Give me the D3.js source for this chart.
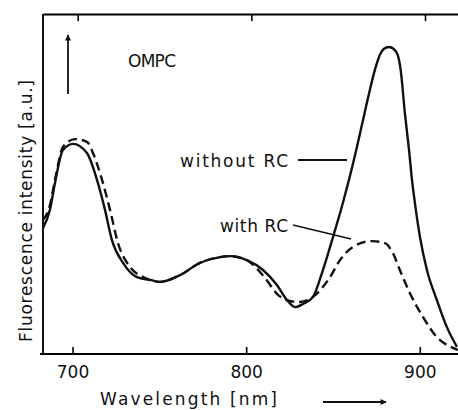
<!DOCTYPE html>
<html>
<head>
<meta charset="utf-8">
<script src="https://cdn.jsdelivr.net/npm/d3@7"></script>
<style>
  body { margin: 0; background: #fff; }
  text { font-family: "DejaVu Sans", sans-serif; fill: #111; }
  .frame { stroke: #111; stroke-width: 2; fill: none; }
  .without-rc { stroke: #111; stroke-width: 2.4; fill: none; }
  .with-rc { stroke: #111; stroke-width: 2.4; fill: none; stroke-dasharray: 9 5; }
  .leader { stroke: #111; stroke-width: 1.8; }
</style>
</head>
<body>
<div id="chart"></div>
<script>
// DATA
const wlWithout = [683, 687, 689.9, 694.5, 700.3, 708.3, 714.1, 718.7, 722.7, 729.1, 737.1, 744.6, 750.4,
  761.9, 773.4, 784.9, 790.6, 800.4, 809.7, 817.7, 823.5, 828.1, 832.7, 838.5, 844.2, 850, 855.7, 859.2,
  863.8, 869.5, 874.1, 876.9, 879.2, 882.2, 885, 887.3, 889, 891.4, 893.8, 895.5, 897.2, 900.1, 904.1,
  909.8, 915.6, 921.4]
const withoutRC = [37.1, 42.4, 50.3, 60, 61.8, 59.1, 51.2, 42.4, 33.5, 26.8, 22.6, 21.8, 21.2,
  23.2, 26.8, 28.5, 28.8, 27.6, 24.7, 20.3, 15.9, 13.8, 14.7, 16.8, 24.7, 34.4, 44.4, 51.2,
  60.9, 73.8, 83.5, 87.9, 89.7, 90.3, 89.7, 87.9, 83.5, 70.9, 60, 51.2, 44.4, 34.4, 24.7,
  15.9, 7.9, 2.1]

const wlWith = [683, 687, 689.9, 694.5, 701.4, 708.3, 711.8, 717, 721.6, 726.2, 733.1, 741.7, 750.4,
  761.9, 773.4, 784.9, 790.6, 800.4, 810.8, 818.3, 825.2, 831, 838.5, 848.3, 854, 861.5, 872.4,
  879.9, 884.5, 888.5, 894.3, 901.8, 909.8, 919.1, 922]
const withRC = [39.4, 43.8, 51.2, 60.9, 63.2, 62.4, 59.1, 51.2, 42.4, 32.6, 25.6, 22.4, 21.2,
  23.2, 26.8, 28.5, 28.8, 27.6, 22.4, 17.4, 15.6, 15.3, 16.8, 22.6, 27.6, 31.5, 33.2,
  32.6, 29.7, 24.7, 17.9, 10.9, 5.0, 1.8, 1.2]

const xTicks = [700, 800, 900]

//MARGIN CONVENTION
var MARGIN = { LEFT: 43, RIGHT: 0, TOP: 14, BOTTOM: 56 }
var CANVAS = { WIDTH: 458, HEIGHT: 410 }
var GRAPH = { WIDTH: CANVAS.WIDTH - MARGIN.LEFT - MARGIN.RIGHT,
              HEIGHT: CANVAS.HEIGHT - MARGIN.TOP - MARGIN.BOTTOM }

const svg = d3.select("#chart").append("svg")
  .attr("width", CANVAS.WIDTH)
  .attr("height", CANVAS.HEIGHT)
const g = svg.append("g")
  .attr("transform", `translate(${MARGIN.LEFT}, ${MARGIN.TOP})`)

//SCALES
const xScale = d3.scaleLinear().domain([683, 922]).range([0, GRAPH.WIDTH])
const yScale = d3.scaleLinear().domain([0, 100]).range([GRAPH.HEIGHT, 0])

// arrow marker
svg.append("defs").append("marker")
  .attr("id", "head")
  .attr("viewBox", "0 0 10 10")
  .attr("refX", 9).attr("refY", 5)
  .attr("markerWidth", 12).attr("markerHeight", 6)
  .attr("markerUnits", "userSpaceOnUse")
  .attr("orient", "auto")
  .append("path").attr("d", "M0,0 L10,5 L0,10 Z").attr("fill", "#111")

//AXES
const gx = g.append("g")
  .attr("transform", `translate(0, ${GRAPH.HEIGHT})`)
  .call(d3.axisBottom(xScale).tickValues(xTicks).tickSize(-7).tickSizeOuter(0).tickPadding(12))
gx.select(".domain").attr("stroke-width", 2).attr("d", `M-3,0H${GRAPH.WIDTH}`)
gx.selectAll(".tick line").attr("stroke-width", 1.6)
gx.selectAll(".tick text").attr("font-size", 17).attr("fill", "#111")

const gtop = g.append("g")
  .call(d3.axisTop(xScale).tickValues(xTicks.map(d => d + 3)).tickSize(-7).tickSizeOuter(0).tickFormat(""))
gtop.select(".domain").attr("stroke-width", 2)
gtop.selectAll(".tick line").attr("stroke-width", 1.6)

g.append("line").attr("class", "frame")
  .attr("x1", 0).attr("x2", 0).attr("y1", 0).attr("y2", GRAPH.HEIGHT)

//CURVES
const line = d3.line()
  .curve(d3.curveMonotoneX)
  .x(d => xScale(d[0]))
  .y(d => yScale(d[1]))

g.append("path").attr("class", "with-rc")
  .attr("d", line(d3.zip(wlWith, withRC)))
g.append("path").attr("class", "without-rc")
  .attr("d", line(d3.zip(wlWithout, withoutRC)))

//LABELS
g.append("text").text("OMPC")
  .attr("x", 85).attr("y", 53)
  .attr("font-size", 17).attr("textLength", 48).attr("lengthAdjust", "spacing")

g.append("text").text("without RC")
  .attr("x", 137).attr("y", 153)
  .attr("font-size", 17).attr("textLength", 108).attr("lengthAdjust", "spacing")
g.append("line").attr("class", "leader")
  .attr("x1", 255).attr("y1", 146).attr("x2", 304).attr("y2", 146)

g.append("text").text("with RC")
  .attr("x", 177).attr("y", 218)
  .attr("font-size", 17).attr("textLength", 68).attr("lengthAdjust", "spacing")
g.append("line").attr("class", "leader")
  .attr("x1", 250).attr("y1", 211).attr("x2", 308).attr("y2", 225)

// y axis title
svg.append("text").text("Fluorescence intensity [a.u.]")
  .attr("transform", "translate(32, 342) rotate(-90)")
  .attr("font-size", 17).attr("textLength", 262).attr("lengthAdjust", "spacing")

// up arrow
svg.append("line")
  .attr("x1", 68).attr("y1", 94).attr("x2", 68).attr("y2", 35)
  .attr("stroke", "#111").attr("stroke-width", 1.8).attr("marker-end", "url(#head)")

// x axis title and arrow
svg.append("text").text("Wavelength [nm]")
  .attr("x", 100).attr("y", 405)
  .attr("font-size", 17).attr("textLength", 177).attr("lengthAdjust", "spacing")
svg.append("line")
  .attr("x1", 323).attr("y1", 402).attr("x2", 386).attr("y2", 402)
  .attr("stroke", "#111").attr("stroke-width", 1.8).attr("marker-end", "url(#head)")
</script>
</body>
</html>
